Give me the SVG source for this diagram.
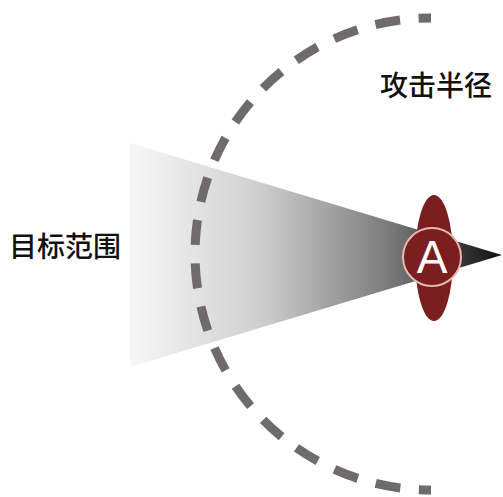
<svg xmlns="http://www.w3.org/2000/svg" width="503" height="497" viewBox="0 0 503 497">
<defs>
<linearGradient id="cone" x1="130" y1="0" x2="502" y2="0" gradientUnits="userSpaceOnUse">
<stop offset="0" stop-color="#f7f7f7"/>
<stop offset="0.35" stop-color="#cfcfcf"/>
<stop offset="0.7" stop-color="#7a7a7a"/>
<stop offset="0.9" stop-color="#333"/>
<stop offset="1" stop-color="#111"/>
</linearGradient>
<style>
.lbl{font-family:"Noto Sans CJK SC","Noto Sans",sans-serif;font-size:28px;font-weight:500;fill:#111;text-anchor:middle}
</style>
</defs>
<rect width="503" height="497" fill="#fff"/>
<g id="target-range">
<polygon points="130,143 502,255 130,367" fill="url(#cone)"/>
</g>
<g id="connectors">
<path id="attack-radius-arc" d="M 431 18 A 236 236 0 0 0 431 490" fill="none" stroke="#6f6b6d" stroke-width="9" stroke-dasharray="25 18.61" stroke-dashoffset="12.5"/>
</g>
<g id="unit-a">
<ellipse cx="434" cy="258" rx="19" ry="63" fill="#7b1e20"/>
<circle cx="432" cy="257" r="29" fill="#7b1e20" stroke="#e8b8b0" stroke-width="2"/>
<text x="432" y="273" font-family="Liberation Sans, sans-serif" font-size="46" fill="#fff" text-anchor="middle">A</text>
</g>
<g id="label-target">
<text class="lbl" x="65" y="257">目标范围</text>
</g>
<g id="label-radius">
<text class="lbl" x="436" y="96">攻击半径</text>
</g>
</svg>
